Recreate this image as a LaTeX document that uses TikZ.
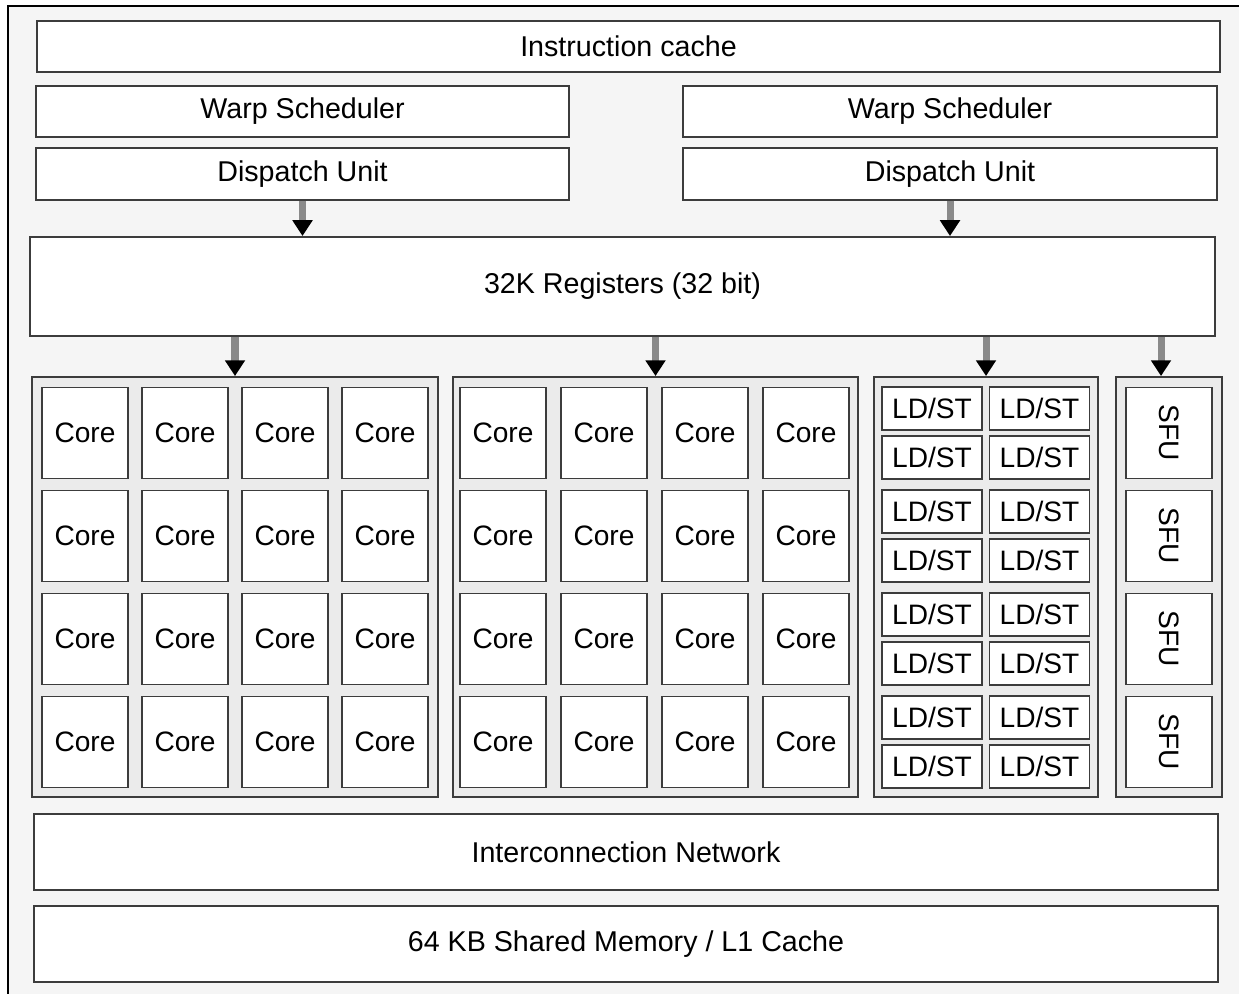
\documentclass[tikz,border=0pt]{standalone}
\usepackage{fontspec}
\usepackage{graphicx}
\setmainfont{Liberation Sans}
\usetikzlibrary{arrows.meta}

\definecolor{framebg}{HTML}{F5F5F5}
\definecolor{groupbg}{HTML}{EBEBEB}
\definecolor{edge}{HTML}{3C3C3C}
\definecolor{shaft}{HTML}{8A8A8A}

\tikzset{
  box/.style={draw=edge,line width=1.1pt,fill=white,inner sep=0pt,font=\fontsize{16.3}{19}\selectfont},
  bar/.style={box,minimum width=23.66cm,minimum height=1.02cm},
  half/.style={box,minimum width=10.67cm,minimum height=1.03cm},
  group/.style={draw=edge,line width=1.1pt,fill=groupbg,inner sep=0pt,minimum height=8.4cm},
  cell/.style={box,minimum width=1.72cm,minimum height=1.82cm,font=\fontsize{16}{19}\selectfont},
  ldst/.style={box,minimum width=2cm,minimum height=0.86cm,font=\fontsize{16}{19}\selectfont},
  feed/.style={line width=4pt,shaft,-{Triangle[color=black,length=9pt,width=11pt]}}
}

\begin{document}
\begin{tikzpicture}[x=0.02cm,y=-0.02cm]
  \useasboundingbox (0,0) rectangle (1239,993);
  \clip (0,0) rectangle (1239,993);
  \draw[fill=framebg,line width=1.4pt] (8,6) rectangle (1260,1010);

  % front end
  \node[bar] (icache) at (628.5,46.5) {Instruction cache};
  \node[half] (warpL) at (302.5,111.5) {Warp Scheduler};
  \node[half] (warpR) at (950,111.5) {Warp Scheduler};
  \node[half] (dispL) at (302.5,174) {Dispatch Unit};
  \node[half] (dispR) at (950,174) {Dispatch Unit};
  \node[box,minimum width=23.7cm,minimum height=1.98cm] (reg) at (622.5,286.5) {32K Registers (32 bit)};

  % execution units
  \node[group,minimum width=8.12cm] (coresA) at (235,587) {};
  \node[group,minimum width=8.1cm] (coresB) at (655.5,587) {};
  \node[group,minimum width=4.48cm] (ldsts) at (986,587) {};
  \node[group,minimum width=2.12cm] (sfus) at (1169,587) {};

  \foreach \col in {0,...,3}
    \foreach \row in {0,...,3} {
      \node[cell] (a-\row-\col) at ({85+100*\col},{433+103*\row}) {Core};
      \node[cell] (b-\row-\col) at ({503+101*\col},{433+103*\row}) {Core};
    }

  \foreach \pair in {0,...,3}
    \foreach \half in {0,1} {
      \node[ldst] (l-\pair-\half) at (932,{408.5+103*\pair+49*\half}) {LD/ST};
      \node[ldst] (r-\pair-\half) at (1039.5,{408.5+103*\pair+49*\half}) {LD/ST};
    }

  \foreach \row in {0,...,3}
    \node[cell] (sfu-\row) at (1169,{433+103*\row}) {\rotatebox{-90}{SFU}};

  % memory side
  \node[box,minimum width=23.68cm,minimum height=1.52cm] (net) at (626,852) {Interconnection Network};
  \node[box,minimum width=23.68cm,minimum height=1.52cm] (smem) at (626,944) {64 KB Shared Memory / L1 Cache};

  % arrows
  \draw[feed] (dispL.south) -- (dispL.south |- reg.north);
  \draw[feed] (dispR.south) -- (dispR.south |- reg.north);
  \draw[feed] (reg.south -| coresA.north) -- (coresA.north);
  \draw[feed] (reg.south -| coresB.north) -- (coresB.north);
  \draw[feed] (reg.south -| ldsts.north) -- (ldsts.north);
  \draw[feed] ([xshift=-0.16cm]reg.south -| sfus.north) -- ([xshift=-0.16cm]sfus.north);
\end{tikzpicture}
\end{document}
